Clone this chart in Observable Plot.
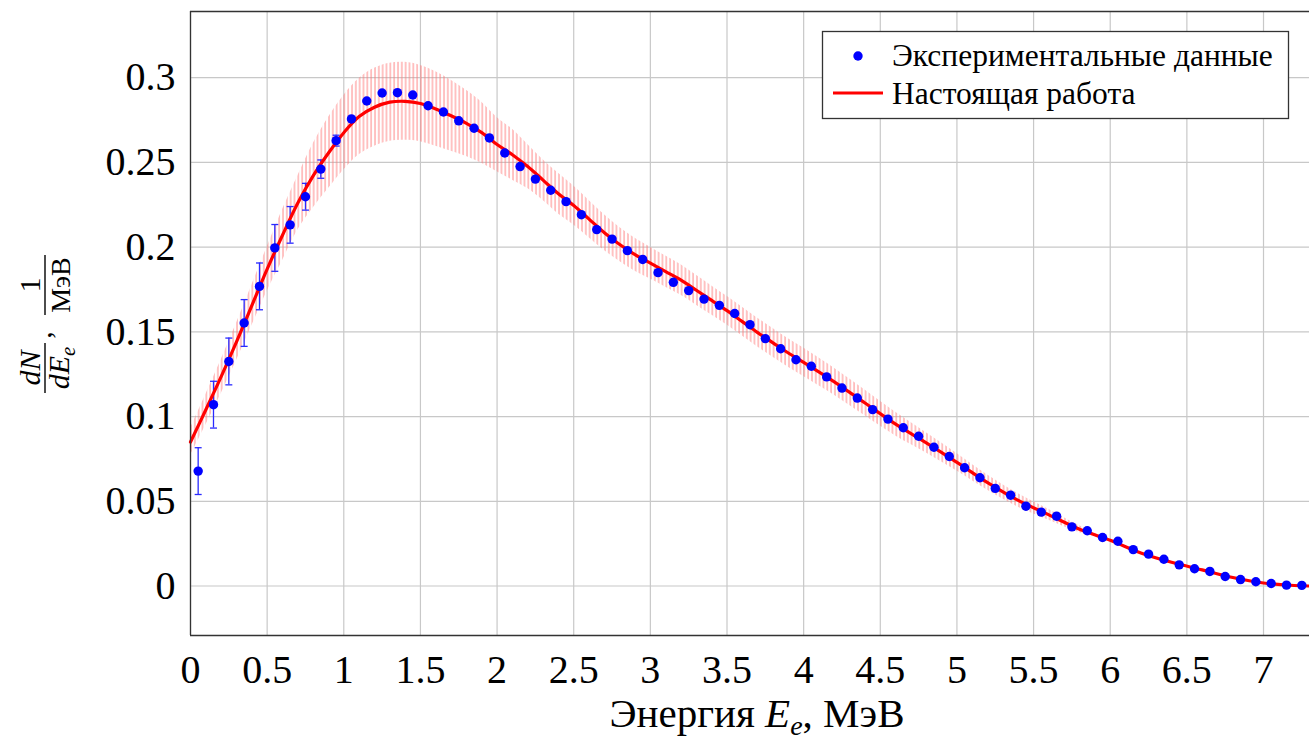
<!DOCTYPE html>
<html><head><meta charset="utf-8">
<script src="https://cdn.jsdelivr.net/npm/d3@7"></script>
<script src="https://cdn.jsdelivr.net/npm/@observablehq/plot@0.6"></script>
<style>body{margin:0;background:#fff} svg{display:block}</style>
</head><body><div id="chart"></div>
<script>
// Experimental data: energy (MeV), dN/dE (1/MeV), error
const energies = [0.05,0.15,0.25,0.35,0.45,0.55,0.65,0.75,0.85,0.95,
  1.05,1.15,1.25,1.35,1.45,1.55,1.65,1.75,1.85,1.95,
  2.05,2.15,2.25,2.35,2.45,2.55,2.65,2.75,2.85,2.95,
  3.05,3.15,3.25,3.35,3.45,3.55,3.65,3.75,3.85,3.95,
  4.05,4.15,4.25,4.35,4.45,4.55,4.65,4.75,4.85,4.95,
  5.05,5.15,5.25,5.35,5.45,5.55,5.65,5.75,5.85,5.95,
  6.05,6.15,6.25,6.35,6.45,6.55,6.65,6.75,6.85,6.95,
  7.05,7.15,7.25];
const spectrum = [0.0678,0.107,0.1325,0.1552,0.1768,0.1995,0.2131,0.2297,0.2460,0.2628,
  0.2756,0.2862,0.2909,0.2911,0.2897,0.2834,0.2797,0.2745,0.2701,0.2644,
  0.2555,0.2475,0.2401,0.2335,0.2268,0.2191,0.2103,0.2047,0.1979,0.1927,
  0.1849,0.1792,0.1743,0.1693,0.1656,0.1608,0.1542,0.1460,0.1400,0.1335,
  0.1297,0.1234,0.1168,0.1109,0.1041,0.0985,0.0934,0.0884,0.0819,0.0764,
  0.0698,0.0639,0.0576,0.0536,0.0471,0.0436,0.0412,0.0349,0.0326,0.0286,
  0.0264,0.0215,0.0188,0.0158,0.0125,0.0102,0.0086,0.0056,0.0038,0.0025,
  0.0015,0.0005,0.0004];
const errors = [0.0138,0.0138,0.0138,0.0138,0.0138,0.0138,0.0108,0.0079,0.0054,0.0032,
  0,0,0,0,0,0,0,0,0,0, 0,0,0,0,0,0,0,0,0,0, 0,0,0,0,0,0,0,0,0,0,
  0,0,0,0,0,0,0,0,0,0, 0,0,0,0,0,0,0,0,0,0, 0,0,0,0,0,0,0,0,0,0, 0,0,0];

// Model curve ("Настоящая работа") and its uncertainty band
const curveE = [0,0.1,0.2,0.3,0.4,0.5,0.6,0.7,0.8,0.9,1.0,1.1,1.2,1.3,1.4,1.5,1.6,1.7,1.8,1.9,
  2.0,2.1,2.2,2.3,2.4,2.5,2.6,2.7,2.8,2.9,3.0,3.1,3.2,3.3,3.4,3.5,3.6,3.7,3.8,3.9,
  4.0,4.2,4.4,4.6,4.8,5.0,5.2,5.4,5.6,5.8,6.0,6.2,6.4,6.6,6.8,7.0,7.2,7.3];
const curveN = [0.085,0.104,0.1235,0.144,0.1655,0.187,0.207,0.226,0.242,0.2555,0.2675,0.277,0.2825,0.2855,0.286,0.2847,0.2815,0.2775,0.273,0.2675,
  0.2605,0.2545,0.2475,0.2395,0.2315,0.2245,0.2165,0.2085,0.2015,0.1955,0.1905,0.1855,0.1805,0.1745,0.1685,0.1625,0.156,0.1495,0.1435,0.1375,
  0.132,0.1205,0.108,0.0955,0.0845,0.073,0.061,0.0505,0.042,0.0335,0.027,0.0195,0.014,0.0095,0.005,0.0018,0.0003,0.0];
const bandLow = [0.077,0.095,0.1135,0.133,0.1535,0.174,0.192,0.210,0.223,0.2345,0.2455,0.2545,0.2595,0.2625,0.263,0.2622,0.2595,0.2565,0.2535,0.2495,
  0.2445,0.2395,0.2345,0.2275,0.2195,0.213,0.2055,0.198,0.1915,0.1858,0.1811,0.1763,0.1715,0.1657,0.1599,0.154,0.1475,0.141,0.135,0.1291,
  0.1236,0.1125,0.1004,0.0885,0.0785,0.0678,0.0565,0.0465,0.0388,0.0315,0.027,0.0195,0.014,0.0095,0.005,0.0018,0.0003,0.0];
const bandHigh = [0.093,0.113,0.1335,0.155,0.1775,0.200,0.222,0.242,0.261,0.2765,0.2895,0.2995,0.3055,0.3085,0.309,0.3072,0.3035,0.2985,0.2925,0.2855,
  0.2765,0.2695,0.2605,0.2515,0.2435,0.236,0.2275,0.219,0.2115,0.2052,0.1999,0.1947,0.1895,0.1833,0.1771,0.171,0.1645,0.158,0.152,0.1459,
  0.1404,0.1285,0.1156,0.1025,0.0905,0.0782,0.0655,0.0545,0.0452,0.0355,0.027,0.0195,0.014,0.0095,0.005,0.0018,0.0003,0.0];

const xTicks = [0,0.5,1,1.5,2,2.5,3,3.5,4,4.5,5,5.5,6,6.5,7];
const yTicks = [0,0.05,0.1,0.15,0.2,0.25,0.3];
const xTickLabels = ["0","0.5","1","1.5","2","2.5","3","3.5","4","4.5","5","5.5","6","6.5","7"];
const yTickLabels = ["0","0.05","0.1","0.15","0.2","0.25","0.3"];
const legendLabels = ["Экспериментальные данные", "Настоящая работа"];

const points = energies.map((e, i) => ({e, n: spectrum[i], err: errors[i]}));
const bars = points.filter(d => d.err > 0);
const fit = curveE.map((e, i) => ({e, n: curveN[i], lo: bandLow[i], hi: bandHigh[i]}));

const yMin = -0.0292, yMax = 0.339;
const capSymbol = {draw(ctx, size) { const w = Math.sqrt(size / Math.PI); ctx.moveTo(-w, 0); ctx.lineTo(w, 0); }};

const plot = Plot.plot({
  width: 1309, height: 743,
  marginLeft: 190, marginRight: 0, marginTop: 11, marginBottom: 108,
  x: {domain: [0, 7.3]},
  y: {domain: [yMin, yMax]},
  style: {fontFamily: "'Liberation Serif', serif", fontSize: "40px", color: "#000", background: "#fff", overflow: "visible"},
  marks: [
    Plot.gridX(xTicks, {stroke: "#c8c8c8", strokeOpacity: 1, strokeWidth: 1.2}),
    Plot.gridY(yTicks, {stroke: "#c8c8c8", strokeOpacity: 1, strokeWidth: 1.2}),
    Plot.areaY(fit, {x: "e", y1: "lo", y2: "hi", fill: "#ff0001", curve: "catmull-rom"}),
    Plot.ruleX(bars, {x: "e", y1: d => d.n - d.err, y2: d => d.n + d.err, stroke: "#2a2aff", strokeWidth: 1.3}),
    Plot.dot(bars, {x: "e", y: d => d.n + d.err, symbol: capSymbol, r: 3.5, stroke: "#2a2aff", strokeWidth: 1.3, fill: "none"}),
    Plot.dot(bars, {x: "e", y: d => d.n - d.err, symbol: capSymbol, r: 3.5, stroke: "#2a2aff", strokeWidth: 1.3, fill: "none"}),
    Plot.line(fit, {x: "e", y: "n", stroke: "#ff0000", strokeWidth: 3.2, curve: "catmull-rom"}),
    Plot.dot(points, {x: "e", y: "n", r: 4.7, fill: "#0000ff", stroke: null}),
    Plot.ruleX([0], {stroke: "#333", strokeWidth: 1.3}),
    Plot.ruleY([yMin, yMax], {stroke: "#333", strokeWidth: 1.3}),
    Plot.axisX(xTicks, {tickSize: 0, tickPadding: 19, tickFormat: (d, i) => xTickLabels[i], label: null, fontSize: 40}),
    Plot.axisY(yTicks, {tickSize: 0, tickPadding: 15, tickFormat: (d, i) => yTickLabels[i], label: null, fontSize: 40})
  ]
});

const svg = d3.select(plot);
// hatch pattern for the uncertainty band
const defs = svg.insert("defs", ":first-child");
const pat = defs.append("pattern").attr("id", "hatch").attr("patternUnits", "userSpaceOnUse")
  .attr("x", 190).attr("y", 0).attr("width", 3.833).attr("height", 20);
pat.append("line").attr("x1", 1).attr("x2", 1).attr("y1", 0).attr("y2", 20)
  .attr("stroke", "#ff7a7a").attr("stroke-width", 1).attr("stroke-opacity", 0.9);
svg.selectAll('g[aria-label="area"]').attr("fill", "url(#hatch)");
svg.selectAll('g[aria-label="area"] path').attr("fill", "url(#hatch)");

// x axis label
const xl = svg.append("text").attr("x", 757).attr("y", 727).attr("text-anchor", "middle")
  .attr("font-size", 41).attr("fill", "#000");
xl.append("tspan").text("Энергия ");
xl.append("tspan").attr("font-style", "italic").text("E");
xl.append("tspan").attr("font-style", "italic").attr("font-size", 28).attr("dy", 8).text("e");
xl.append("tspan").attr("dy", -8).text(", МэВ");

// y axis label (rotated fraction)
const yl = svg.append("g").attr("transform", "translate(45,335) rotate(-90)")
  .attr("font-size", 30).attr("fill", "#000");
yl.append("line").attr("x1", -58).attr("x2", -8).attr("y1", 0).attr("y2", 0).attr("stroke", "#000").attr("stroke-width", 1.4);
yl.append("text").attr("x", -33).attr("y", -5).attr("text-anchor", "middle").attr("font-style", "italic").text("dN");
const den = yl.append("text").attr("x", -33).attr("y", 24).attr("text-anchor", "middle").attr("font-style", "italic");
den.append("tspan").text("dE");
den.append("tspan").attr("font-size", 21).attr("dy", 6).text("e");
yl.append("text").attr("x", 0).attr("y", 6).attr("text-anchor", "middle").text(",");
yl.append("line").attr("x1", 20).attr("x2", 80).attr("y1", 0).attr("y2", 0).attr("stroke", "#000").attr("stroke-width", 1.4);
yl.append("text").attr("x", 50).attr("y", -5).attr("text-anchor", "middle").text("1");
yl.append("text").attr("x", 50).attr("y", 25).attr("text-anchor", "middle").attr("font-size", 28).text("МэВ");

// legend
const lg = svg.append("g").attr("font-size", 31.5).attr("fill", "#000").attr("text-anchor", "start");
lg.append("rect").attr("x", 822.5).attr("y", 31.5).attr("width", 466).attr("height", 87)
  .attr("fill", "#fff").attr("stroke", "#333").attr("stroke-width", 1.3);
lg.append("circle").attr("cx", 858).attr("cy", 56).attr("r", 4.7).attr("fill", "#0000ff");
lg.append("line").attr("x1", 833).attr("x2", 883).attr("y1", 93).attr("y2", 93).attr("stroke", "#ff0000").attr("stroke-width", 3.2);
lg.append("text").attr("x", 892).attr("y", 66).attr("text-anchor", "start").text(legendLabels[0]);
lg.append("text").attr("x", 892).attr("y", 104).attr("text-anchor", "start").text(legendLabels[1]);

document.getElementById("chart").appendChild(plot);
</script>
</body></html>
